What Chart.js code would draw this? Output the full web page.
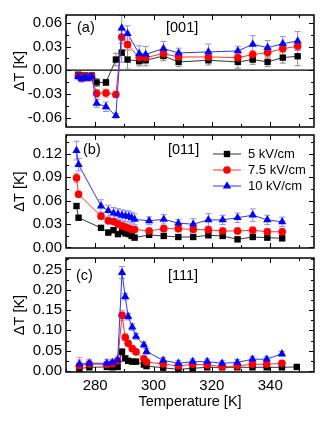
<!DOCTYPE html>
<html><head><meta charset="utf-8">
<script src="https://cdn.jsdelivr.net/npm/chart.js@4/dist/chart.umd.min.js"></script>
<style>
html,body{margin:0;padding:0;background:#fff;}
#wrap{position:relative;width:332px;height:433px;overflow:hidden;}
canvas{position:absolute;left:0;top:0;}
</style></head><body>
<div id="wrap">
<canvas id="ca" width="332" height="433"></canvas>
<canvas id="cb" width="332" height="433"></canvas>
<canvas id="cc" width="332" height="433"></canvas>
</div>
<script>
// ---------- DATA ----------
const seriesLabels = ['5 kV/cm', '7.5 kV/cm', '10 kV/cm'];
const xTicks = [280, 300, 320, 340];
const xMinorTicks = [270, 290, 310, 330, 350];

// Panel (a) [001]
const tempA = [274.2, 275.4, 276.5, 277.6, 278.8, 280.5, 283.7, 287.1, 289.1, 291.1, 295.1, 297.3, 303.4, 308.6, 318.8, 328.9, 334.0, 339.1, 344.3, 349.4];
const a5  = [-0.006,-0.008,-0.007,-0.009,-0.007,-0.0155,-0.0155,0.0135,0.0223,0.0135,0.0114,0.0126,0.018,0.0105,0.0126,0.0105,0.0135,0.0105,0.016,0.0177];
const a75 = [-0.007,-0.010,-0.008,-0.009,-0.008,-0.0294,-0.029,-0.0307,0.042,0.0324,0.016,0.016,0.021,0.0168,0.0168,0.016,0.0198,0.0223,0.0274,0.0303];
const a10 = [-0.008,-0.011,-0.009,-0.010,-0.008,-0.042,-0.0463,-0.0577,0.0535,0.0463,0.021,0.020,0.0274,0.0219,0.0232,0.0244,0.0328,0.0286,0.0337,0.037];
const a5err  = [0.004,0.005,0.004,0.004,0.004,0.005,0.004,0.008,0.012,0.012,0.006,0.007,0.006,0.006,0.006,0.008,0.006,0.006,0.007,0.012];
const a75err = [0.004,0.004,0.004,0.004,0.004,0.005,0.005,0.004,0.008,0.007,0.005,0.005,0.005,0.005,0.005,0.005,0.005,0.005,0.005,0.005];
const a10err = [0.004,0.004,0.004,0.004,0.004,0.005,0.006,0.003,0.016,0.010,0.010,0.010,0.009,0.006,0.010,0.006,0.011,0.009,0.009,0.012];
const yTicksA = [-0.06, -0.03, 0.00, 0.03, 0.06];
const yMinorA = [-0.045, -0.015, 0.015, 0.045];

// Panel (b) [011]
const tempB = [273.6, 274.3, 282.0, 284.5, 286.3, 287.8, 289.2, 290.4, 291.5, 292.5, 293.5, 298.5, 303.5, 308.5, 313.6, 318.8, 323.7, 328.8, 334.0, 339.0, 344.1];
const b5  = [0.053,0.038,0.025,0.019,0.022,0.017,0.020,0.018,0.017,0.0146,0.0125,0.016,0.0146,0.0133,0.0133,0.0155,0.0146,0.0103,0.0133,0.0125,0.0116];
const b75 = [0.089,0.068,0.040,0.034,0.033,0.030,0.0275,0.026,0.0245,0.023,0.023,0.021,0.024,0.024,0.023,0.0224,0.021,0.021,0.022,0.020,0.020];
const b10 = [0.124,0.106,0.053,0.047,0.044,0.0426,0.041,0.040,0.0396,0.038,0.036,0.034,0.036,0.031,0.0297,0.0352,0.0352,0.038,0.0413,0.0352,0.0327];
const b5err  = [0.003,0.003,0.003,0.003,0.003,0.003,0.003,0.003,0.003,0.003,0.003,0.003,0.003,0.003,0.003,0.003,0.003,0.003,0.003,0.003,0.003];
const b75err = [0.006,0.004,0.004,0.004,0.004,0.004,0.004,0.004,0.004,0.004,0.004,0.004,0.004,0.004,0.004,0.004,0.004,0.004,0.004,0.004,0.004];
const b10err = [0.012,0.008,0.008,0.007,0.007,0.007,0.007,0.007,0.007,0.007,0.007,0.005,0.006,0.005,0.007,0.008,0.006,0.006,0.008,0.006,0.006];
const yTicksB = [0.00, 0.03, 0.06, 0.09, 0.12];
const yMinorB = [0.015, 0.045, 0.075, 0.105, 0.135];

// Panel (c) [111]
const tempC = [274.6, 278.0, 284.0, 285.9, 287.7, 289.2, 290.3, 291.3, 292.7, 294.0, 296.7, 297.6, 303.3, 308.5, 313.4, 318.4, 323.5, 328.7, 333.9, 338.8, 344.0, 349.1];
const c5  = [0.006,0.009,0.010,0.009,0.010,0.047,0.031,0.025,0.023,0.023,0.016,0.012,0.008,0.004,0.0066,0.009,0.009,0.009,0.009,0.009,0.009,0.010];
const c75 = [0.013,0.017,0.016,0.018,0.025,0.137,0.083,0.068,0.055,0.047,0.030,0.022,0.017,0.0123,0.0165,0.015,0.0106,0.0123,0.0165,0.0165,0.019,null];
const c10 = [0.017,0.019,0.019,0.021,0.027,0.242,0.183,0.134,0.108,0.085,0.064,0.048,0.026,0.019,0.023,0.023,0.019,0.021,0.029,0.029,0.042,null];
const c5err  = [0.006,0.005,0.005,0.005,0.005,0.008,0.006,0.006,0.006,0.006,0.006,0.006,0.005,0.005,0.005,0.005,0.005,0.005,0.005,0.005,0.005,0.004];
const c75err = [0.020,0.008,0.008,0.007,0.008,0.012,0.008,0.006,0.006,0.006,0.006,0.006,0.006,0.005,0.005,0.005,0.005,0.005,0.005,0.005,0.006,null];
const c10err = [0.010,0.010,0.010,0.008,0.010,0.015,0.008,0.008,0.008,0.007,0.007,0.007,0.007,0.007,0.007,0.007,0.006,0.007,0.007,0.006,0.006,null];
const yTicksC = [0.00, 0.05, 0.10, 0.15, 0.20, 0.25];
const yMinorC = [0.025, 0.075, 0.125, 0.175, 0.225, 0.275];

// ---------- STYLE ----------
const FONT = "'Liberation Sans', Arial, Helvetica, sans-serif";
const styles = [
  {color:'#000000', line:'#333333', err:'#8a8a8a', shape:'rect', radius:4.5, order:2},
  {color:'#ff0000', line:'#ff3030', err:'#ff8c8c', shape:'circle', radius:3.8, order:1},
  {color:'#0000ff', line:'#3030ff', err:'#8c8cff', shape:'triangle', radius:4.8, order:0}
];

const panelPlugin = {
  id: 'panel',
  beforeDatasetsDraw(chart, args, o) {
    const {ctx, chartArea: ca, scales: {x, y}} = chart;
    ctx.save();
    ctx.beginPath(); ctx.rect(ca.left, ca.top, ca.right - ca.left, ca.bottom - ca.top); ctx.clip();
    if (o.zeroLine) {
      const py = y.getPixelForValue(0);
      ctx.strokeStyle = '#000'; ctx.lineWidth = 1.2;
      ctx.beginPath(); ctx.moveTo(ca.left, py); ctx.lineTo(ca.right, py); ctx.stroke();
    }
    chart.data.datasets.forEach(ds => {
      if (!ds.errs) return;
      ctx.strokeStyle = ds.errColor; ctx.lineWidth = 1;
      ds.data.forEach((p, j) => {
        const e = ds.errs[j];
        if (p.y == null || e == null) return;
        const px = x.getPixelForValue(p.x);
        const y1 = y.getPixelForValue(p.y + e), y2 = y.getPixelForValue(p.y - e);
        ctx.beginPath();
        ctx.moveTo(px, y1); ctx.lineTo(px, y2);
        ctx.moveTo(px - 3, y1); ctx.lineTo(px + 3, y1);
        ctx.moveTo(px - 3, y2); ctx.lineTo(px + 3, y2);
        ctx.stroke();
      });
    });
    ctx.restore();
  },
  afterDraw(chart, args, o) {
    const {ctx, chartArea: ca, scales: {x, y}} = chart;
    ctx.save();
    ctx.strokeStyle = '#000'; ctx.lineWidth = 1;
    const tickX = (vals, len) => vals.forEach(v => {
      const px = Math.round(x.getPixelForValue(v)) + 0.5;
      if (px < ca.left || px > ca.right) return;
      ctx.beginPath();
      ctx.moveTo(px, ca.bottom); ctx.lineTo(px, ca.bottom - len);
      ctx.moveTo(px, ca.top); ctx.lineTo(px, ca.top + len);
      ctx.stroke();
    });
    const tickY = (vals, len) => vals.forEach(v => {
      const py = Math.round(y.getPixelForValue(v)) + 0.5;
      if (py < ca.top || py > ca.bottom) return;
      ctx.beginPath();
      ctx.moveTo(ca.left, py); ctx.lineTo(ca.left + len, py);
      ctx.moveTo(ca.right, py); ctx.lineTo(ca.right - len, py);
      ctx.stroke();
    });
    tickX(xTicks, 5); tickX(xMinorTicks, 3);
    tickY(o.yMajor, 5); tickY(o.yMinor, 3);
    ctx.lineWidth = 1.5;
    ctx.strokeRect(ca.left, ca.top, ca.right - ca.left, ca.bottom - ca.top);
    ctx.fillStyle = '#000';
    ctx.font = '14.5px ' + FONT;
    ctx.textBaseline = 'middle'; ctx.textAlign = 'left';
    ctx.fillText(o.tag, o.tagX, o.textY);
    ctx.fillText(o.dir, o.dirX, o.textY);
    if (o.legend) {
      ctx.font = '13px ' + FONT;
      chart.data.datasets.slice().sort((a, b) => a.legendIdx - b.legendIdx).forEach((ds, i) => {
        const ly = o.legend.y + i * o.legend.dy;
        ctx.strokeStyle = ds.borderColor; ctx.lineWidth = 1;
        ctx.beginPath(); ctx.moveTo(o.legend.x0, ly); ctx.lineTo(o.legend.x1, ly); ctx.stroke();
        ctx.fillStyle = ds.pointBackgroundColor;
        ctx.strokeStyle = ds.pointBackgroundColor;
        Chart.helpers.drawPoint(ctx, {pointStyle: ds.pointStyle, radius: ds.pointRadius, borderWidth: 0, rotation: 0},
          (o.legend.x0 + o.legend.x1) / 2, ly);
        ctx.fillStyle = '#000';
        ctx.fillText(ds.label, o.legend.tx, ly);
      });
    }
    ctx.restore();
  }
};

function makeDatasets(temps, vals, errs) {
  return vals.map((v, i) => ({
    label: seriesLabels[i],
    legendIdx: i,
    data: temps.map((t, j) => ({x: t, y: v[j]})),
    errs: errs[i],
    errColor: styles[i].err,
    borderColor: styles[i].line,
    borderWidth: 1,
    pointStyle: styles[i].shape,
    pointRadius: styles[i].radius,
    pointHoverRadius: styles[i].radius,
    pointBackgroundColor: styles[i].color,
    pointBorderColor: styles[i].color,
    pointBorderWidth: 0,
    order: styles[i].order,
    tension: 0,
    spanGaps: false
  }));
}

function makePanel(id, p) {
  return new Chart(document.getElementById(id), {
    type: 'line',
    data: {datasets: makeDatasets(p.temps, p.vals, p.errs)},
    plugins: [panelPlugin],
    options: {
      responsive: false,
      animation: false,
      devicePixelRatio: 1,
      layout: {padding: {left: 11, right: 18, top: p.top, bottom: p.bottom}},
      plugins: {
        legend: {display: false}, tooltip: {enabled: false},
        panel: p.plugin
      },
      scales: {
        x: {
          type: 'linear', min: 270, max: 355,
          display: p.showX,
          afterBuildTicks: s => { s.ticks = xTicks.map(v => ({value: v})); },
          afterFit: s => { if (p.showX) s.height = 39; },
          grid: {display: false, drawTicks: false},
          border: {display: false},
          ticks: {font: {family: FONT, size: 15}, color: '#000', padding: 5, maxRotation: 0,
                  callback: v => String(v)},
          title: {display: p.showX, text: 'Temperature [K]', color: '#000',
                  font: {family: FONT, size: 14.5}, padding: 0}
        },
        y: {
          type: 'linear', min: p.yMin, max: p.yMax,
          afterBuildTicks: s => { s.ticks = p.yTicks.map(v => ({value: v})); },
          afterFit: s => { s.width = 55; },
          grid: {display: false, drawTicks: false},
          border: {display: false},
          ticks: {font: {family: FONT, size: 15}, color: '#000', padding: 4,
                  callback: v => v.toFixed(2)},
          title: {display: true, text: 'ΔT [K]', color: '#000',
                  font: {family: FONT, size: 14.5}, padding: 0}
        }
      }
    }
  });
}

makePanel('ca', {
  temps: tempA, vals: [a5, a75, a10], errs: [a5err, a75err, a10err],
  yMin: -0.072, yMax: 0.070, yTicks: yTicksA, top: 15, bottom: 306, showX: false,
  plugin: {zeroLine: true, yMajor: yTicksA, yMinor: yMinorA, tag: '(a)', tagX: 77, dir: '[001]', dirX: 166, textY: 28}
});
makePanel('cb', {
  temps: tempB, vals: [b5, b75, b10], errs: [b5err, b75err, b10err],
  yMin: -0.0008, yMax: 0.144, yTicks: yTicksB, top: 135, bottom: 185, showX: false,
  plugin: {zeroLine: false, yMajor: yTicksB, yMinor: yMinorB, tag: '(b)', tagX: 83, dir: '[011]', dirX: 168, textY: 150,
           legend: {x0: 213, x1: 241, tx: 248, y: 154, dy: 16}}
});
makePanel('cc', {
  temps: tempC, vals: [c5, c75, c10], errs: [c5err, c75err, c10err],
  yMin: -0.0025, yMax: 0.278, yTicks: yTicksC, top: 258, bottom: 22, showX: true,
  plugin: {zeroLine: false, yMajor: yTicksC, yMinor: yMinorC, tag: '(c)', tagX: 76, dir: '[111]', dirX: 168, textY: 276}
});
</script>
</body></html>
